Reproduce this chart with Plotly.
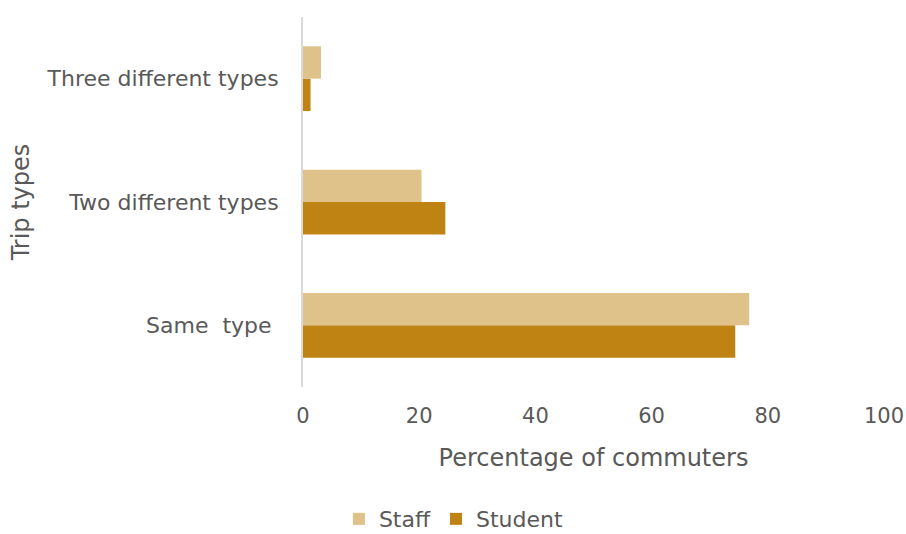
import plotly.graph_objects as go

# Trip-type categories, listed bottom to top on the y axis
categories = ["Same\u00a0\u00a0type\u00a0", "Two different types", "Three different types"]

# Share of commuters (%) per trip-type group
staff_pct = [76.8, 20.4, 3.1]
student_pct = [74.4, 24.5, 1.3]

x_ticks = [0, 20, 40, 60, 80, 100]

STAFF_COLOR = "#DFC18A"
STUDENT_COLOR = "#BF8313"
TEXT_COLOR = "#595959"
FONT = "DejaVu Sans"

fig = go.Figure()
# Student is added first so that it sits beneath Staff inside each group
fig.add_trace(go.Bar(
    y=categories, x=student_pct, name="Student", orientation="h",
    marker=dict(color=STUDENT_COLOR, line=dict(width=0)),
))
fig.add_trace(go.Bar(
    y=categories, x=staff_pct, name="Staff", orientation="h",
    marker=dict(color=STAFF_COLOR, line=dict(width=0)),
))

fig.update_layout(
    width=906, height=534,
    margin=dict(l=303, r=22, t=17, b=147),
    paper_bgcolor="white", plot_bgcolor="white",
    barmode="group", bargap=0.475, bargroupgap=0,
    font=dict(family=FONT, color=TEXT_COLOR, size=22),
    showlegend=True,
    legend=dict(
        orientation="h", traceorder="reversed",
        xref="container", yref="container",
        x=0.501, xanchor="center", y=0.028, yanchor="middle",
        font=dict(family=FONT, size=22, color=TEXT_COLOR),
        bgcolor="rgba(0,0,0,0)",
    ),
)

fig.update_xaxes(
    range=[0, 100], tickvals=x_ticks, ticktext=[str(v) for v in x_ticks],
    showgrid=False, zeroline=False, showline=False, ticks="",
    ticklabelstandoff=14,
    tickfont=dict(family=FONT, size=21, color=TEXT_COLOR),
    title=dict(text="Percentage of commuters", standoff=22,
               font=dict(family=FONT, size=24, color=TEXT_COLOR)),
    automargin=False, fixedrange=True,
)
fig.update_yaxes(
    type="category", categoryorder="array", categoryarray=categories,
    showgrid=False, zeroline=False, showline=True,
    linecolor="#D9D9D9", linewidth=2, ticks="",
    ticklabelstandoff=18,
    tickfont=dict(family=FONT, size=22, color=TEXT_COLOR),
    title=dict(text="Trip types", standoff=10,
               font=dict(family=FONT, size=24, color=TEXT_COLOR)),
    automargin=False, fixedrange=True,
)

fig.write_html("out.html")
